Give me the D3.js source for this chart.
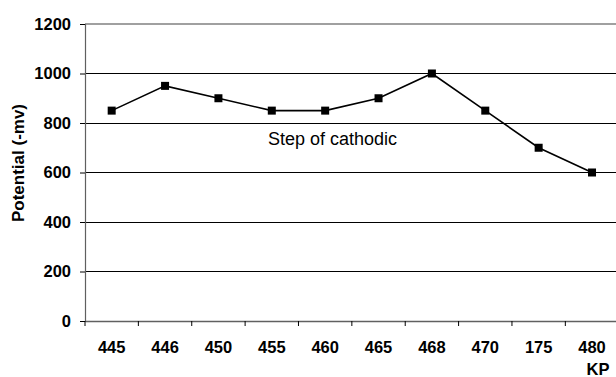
<!DOCTYPE html>
<html><head><meta charset="utf-8">
<script src="https://cdn.jsdelivr.net/npm/d3@7"></script>
<style>body{margin:0;background:#fff}svg{display:block}</style>
</head><body>
<svg id="c" width="616" height="377"></svg>
<script>
const categories = ["445","446","450","455","460","465","468","470","175","480"];
const potential = [850, 950, 900, 850, 850, 900, 1000, 850, 700, 600];
const yTicks = [0, 200, 400, 600, 800, 1000, 1200];

(function () {
const svg = d3.select("#c");
const mL = 85, mR = 618.7, mT = 24, mB = 321;
const x = d3.scaleBand().domain(categories).range([mL, mR]);
const y = d3.scaleLinear().domain([0, 1200]).range([mB, mT]);
const font = "'Liberation Sans', Arial, sans-serif";
const fs = 16.5;

// gridlines
svg.append("g").selectAll("line").data(yTicks.filter(d => d > 0 && d < 1200)).join("line")
  .attr("x1", mL).attr("x2", 616).attr("y1", d => y(d)).attr("y2", d => y(d))
  .attr("stroke", "#000").attr("stroke-width", 1).attr("shape-rendering", "crispEdges");
// top border
svg.append("line").attr("x1", mL).attr("x2", 616).attr("y1", y(1200)).attr("y2", y(1200))
  .attr("stroke", "#808080").attr("stroke-width", 1.5);

// y axis
const ya = svg.append("g").attr("transform", `translate(${mL},0)`)
  .call(d3.axisLeft(y).tickValues(yTicks).tickFormat(d3.format("d")).tickSize(5).tickPadding(9));
ya.select(".domain").attr("stroke", "#606060").attr("stroke-width", 1.2);
ya.selectAll(".tick line").attr("stroke", "#000");
ya.selectAll("text").attr("font-family", font).attr("font-size", fs).attr("font-weight", "bold").attr("fill", "#000");

// x axis
const xa = svg.append("g").attr("transform", `translate(0,${mB})`)
  .call(d3.axisBottom(x).tickSize(0).tickPadding(20));
xa.select(".domain").attr("stroke", "#606060").attr("stroke-width", 1.5);
xa.selectAll("text").attr("font-family", font).attr("font-size", fs).attr("font-weight", "bold").attr("fill", "#000");
// boundary tick marks
svg.append("g").selectAll("line").data(categories).join("line")
  .attr("x1", d => x(d)).attr("x2", d => x(d)).attr("y1", mB).attr("y2", mB + 5)
  .attr("stroke", "#000").attr("stroke-width", 1);

// line
const cx = d => x(d) + x.bandwidth() / 2;
const pts = categories.map((c, i) => [c, potential[i]]);
svg.append("path").datum(pts)
  .attr("fill", "none").attr("stroke", "#000").attr("stroke-width", 1.6)
  .attr("d", d3.line().x(d => cx(d[0])).y(d => y(d[1])));
svg.append("g").selectAll("rect").data(pts).join("rect")
  .attr("x", d => cx(d[0]) - 4).attr("y", d => y(d[1]) - 4).attr("width", 8).attr("height", 8)
  .attr("fill", "#000");

// annotation
svg.append("text").attr("x", 268).attr("y", 145).attr("font-family", font).attr("font-size", 18)
  .attr("fill", "#000").text("Step of cathodic");

// axis titles
svg.append("text").attr("transform", `translate(24,163) rotate(-90)`).attr("text-anchor", "middle")
  .attr("font-family", font).attr("font-size", 17).attr("font-weight", "bold").attr("fill", "#000")
  .text("Potential (-mv)");
svg.append("text").attr("x", 598).attr("y", 375).attr("text-anchor", "middle")
  .attr("font-family", font).attr("font-size", fs).attr("font-weight", "bold").attr("fill", "#000")
  .text("KP");
})();
</script>
</body></html>
